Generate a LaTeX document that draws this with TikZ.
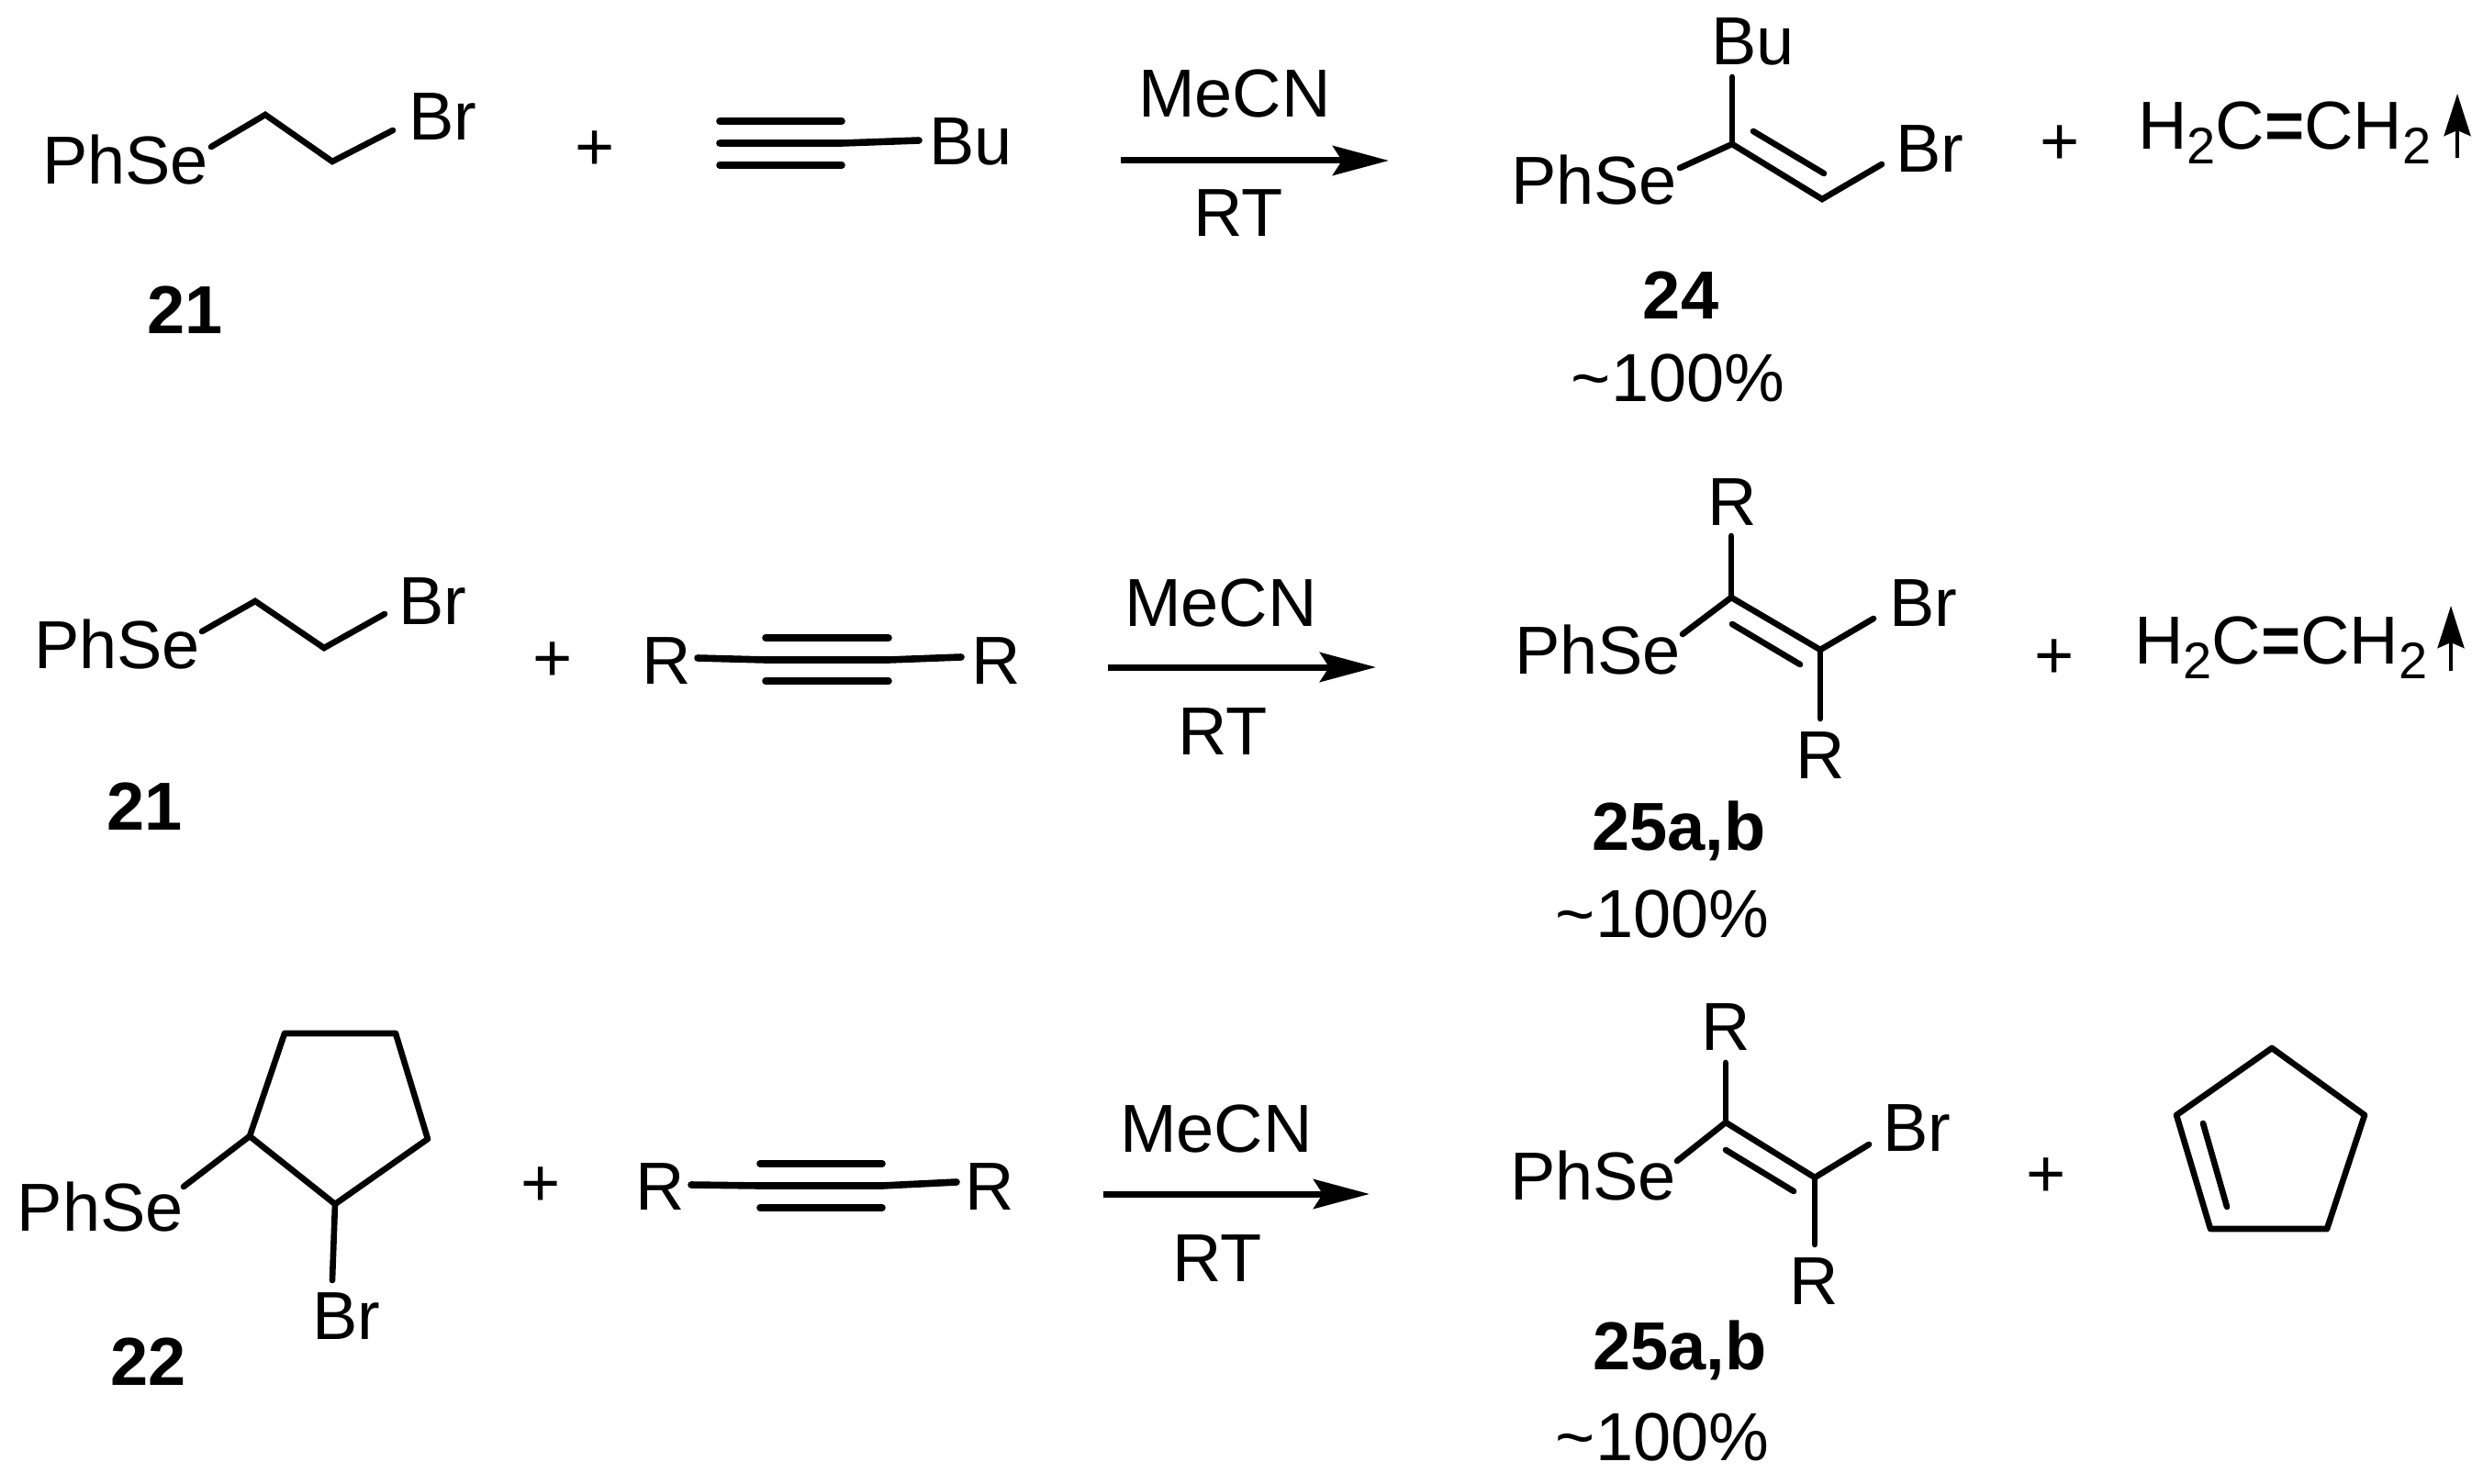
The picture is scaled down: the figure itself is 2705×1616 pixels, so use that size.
\documentclass[tikz,border=0pt]{standalone}
\usepackage{fontspec}
\setmainfont{Liberation Sans}
\usetikzlibrary{arrows.meta}
\tikzset{
  chemtext/.style={inner sep=0pt,outer sep=0pt,font=\fontsize{18.5pt}{20pt}\selectfont},
  atomw/.style={chemtext,anchor=base west},
  labc/.style={chemtext,anchor=base},
  boldc/.style={chemtext,anchor=base,font=\fontsize{18.5pt}{20pt}\selectfont\bfseries},
  bond/.style={draw=black,line width=1.65pt,line cap=round,line join=miter},
  triple/.style={draw=black,line width=1.9pt,line cap=round},
  rxnarrow/.style={draw=black,line width=1.75pt,-{Stealth[length=15.25pt,width=8pt,inset=2.5pt,sep=0pt]}},
  gasarrow/.style={draw=black,line width=1.2pt,-{Stealth[length=11.5pt,width=7.2pt,inset=1.5pt,sep=0pt]}}
}
\newcommand{\ethene}{H\raisebox{-4pt}{\fontsize{14pt}{15pt}\selectfont 2}C{\bfseries=}CH\raisebox{-4pt}{\fontsize{14pt}{15pt}\selectfont 2}}
\begin{document}
\begin{tikzpicture}[x=0.25pt,y=-0.25pt]
\useasboundingbox[fill=white] (0,0) rectangle (2705,1616);

% ===== Row 1 =====
\node[atomw] (aPhSe) at (46,200) {PhSe};
\node[atomw] (aBr) at (445,152) {Br};
\coordinate (a1) at (230,160); \coordinate (a2) at (289,125); \coordinate (a3) at (362,176); \coordinate (a4) at (428,142);
\draw[bond] (a1) -- (a2) -- (a3) -- (a4);
\node[boldc] (a21) at (202,363) {21};
\node[labc] (aplus) at (648,186) {+};
\coordinate (at1) at (784,132); \coordinate (at2) at (917,132);
\coordinate (at3) at (784,156); \coordinate (at4) at (917,156);
\coordinate (at5) at (784,180); \coordinate (at6) at (917,180);
\coordinate (at7) at (1001,153);
\draw[triple] (at1) -- (at2);
\draw[triple] (at3) -- (at4) -- (at7);
\draw[triple] (at5) -- (at6);
\node[atomw] (aBu) at (1012,180) {Bu};
\coordinate (ar1) at (1221,175); \coordinate (ar2) at (1513,175);
\draw[rxnarrow] (ar1) -- (ar2);
\node[labc] (aMe) at (1345,128) {MeCN};
\node[labc] (aRT) at (1349,257) {RT};
\node[atomw] (pPhSe) at (1646,223) {PhSe};
\node[atomw] (pBu) at (1864,71) {Bu};
\node[atomw] (pBr) at (2065,188) {Br};
\coordinate (pc1) at (1887,157); \coordinate (pc2) at (1985,217);
\coordinate (pb1) at (1887,84); \coordinate (pb2) at (1830,183); \coordinate (pb3) at (2050,179);
\coordinate (pd1) at (1910,143); \coordinate (pd2) at (1987,189);
\draw[bond] (pb1) -- (pc1);
\draw[bond] (pb2) -- (pc1) -- (pc2) -- (pb3);
\draw[bond] (pd1) -- (pd2);
\node[boldc] (p24) at (1831,347) {24};
\node[labc] (py1) at (1828,437) {\textasciitilde100\%};
\node[labc] (pplus) at (2244,180) {+};
\node[atomw] (peth) at (2329,163) {\ethene};
\coordinate (pg1) at (2677,172); \coordinate (pg2) at (2677,102);
\draw[gasarrow] (pg1) -- (pg2);

% ===== Row 2 =====
\node[atomw] (bPhSe) at (37,728) {PhSe};
\node[atomw] (bBr) at (434,680) {Br};
\coordinate (b1) at (220,688); \coordinate (b2) at (278,655); \coordinate (b3) at (353,706); \coordinate (b4) at (419,669);
\draw[bond] (b1) -- (b2) -- (b3) -- (b4);
\node[boldc] (b21) at (158,904) {21};
\node[labc] (bplus) at (602,742) {+};
\node[atomw] (bR1) at (699,745) {R};
\node[atomw] (bR2) at (1058,745) {R};
\coordinate (bt1) at (834,695); \coordinate (bt2) at (968,695);
\coordinate (bt3) at (760,717); \coordinate (bt4) at (834,719); \coordinate (bt5) at (968,719); \coordinate (bt6) at (1047,716);
\coordinate (bt7) at (834,742); \coordinate (bt8) at (968,742);
\draw[triple] (bt1) -- (bt2);
\draw[triple] (bt3) -- (bt4) -- (bt5) -- (bt6);
\draw[triple] (bt7) -- (bt8);
\coordinate (br1) at (1207,727); \coordinate (br2) at (1499,727);
\draw[rxnarrow] (br1) -- (br2);
\node[labc] (bMe) at (1330,682) {MeCN};
\node[labc] (bRT) at (1332,822) {RT};
\node[atomw] (qPhSe) at (1650,734) {PhSe};
\node[atomw] (qR1) at (1860,572) {R};
\node[atomw] (qBr) at (2058,682) {Br};
\node[atomw] (qR2) at (1956,848) {R};
\coordinate (qc1) at (1886,651); \coordinate (qc2) at (1983,708);
\coordinate (qb1) at (1886,584); \coordinate (qb2) at (1833,691); \coordinate (qb3) at (2041,674); \coordinate (qb4) at (1983,783);
\coordinate (qd1) at (1887,680); \coordinate (qd2) at (1961,724);
\draw[bond] (qb1) -- (qc1);
\draw[bond] (qb2) -- (qc1) -- (qc2) -- (qb3);
\draw[bond] (qc2) -- (qb4);
\draw[bond] (qd1) -- (qd2);
\node[boldc] (q25) at (1829,926) {25a,b};
\node[labc] (qy) at (1811,1021) {\textasciitilde100\%};
\node[labc] (qplus) at (2238,739) {+};
\node[atomw] (qeth) at (2325,723) {\ethene};
\coordinate (qg1) at (2670,731); \coordinate (qg2) at (2670,660);
\draw[gasarrow] (qg1) -- (qg2);

% ===== Row 3 =====
\node[atomw] (cPhSe) at (19,1341) {PhSe};
\node[atomw] (cBr) at (340,1459) {Br};
\coordinate (r1) at (272,1238); \coordinate (r2) at (310,1126); \coordinate (r3) at (431,1126);
\coordinate (r4) at (466,1241); \coordinate (r5) at (365,1312);
\coordinate (c1) at (200,1293); \coordinate (c2) at (362,1395);
\draw[bond,line join=round] (r1) -- (r2) -- (r3) -- (r4) -- (r5) -- cycle;
\draw[bond] (c1) -- (r1);
\draw[bond] (r5) -- (c2);
\node[boldc] (c22) at (162,1509) {22};
\node[labc] (cplus) at (589,1314) {+};
\node[atomw] (cR1) at (692,1318) {R};
\node[atomw] (cR2) at (1051,1318) {R};
\coordinate (ct1) at (828,1268); \coordinate (ct2) at (961,1268);
\coordinate (ct3) at (753,1291); \coordinate (ct4) at (828,1292); \coordinate (ct5) at (961,1292); \coordinate (ct6) at (1042,1288);
\coordinate (ct7) at (828,1316); \coordinate (ct8) at (961,1316);
\draw[triple] (ct1) -- (ct2);
\draw[triple] (ct3) -- (ct4) -- (ct5) -- (ct6);
\draw[triple] (ct7) -- (ct8);
\coordinate (cr1) at (1202,1301); \coordinate (cr2) at (1492,1301);
\draw[rxnarrow] (cr1) -- (cr2);
\node[labc] (cMe) at (1325,1255) {MeCN};
\node[labc] (cRT) at (1326,1396) {RT};
\node[atomw] (sPhSe) at (1645,1307) {PhSe};
\node[atomw] (sR1) at (1853,1144) {R};
\node[atomw] (sBr) at (2051,1254) {Br};
\node[atomw] (sR2) at (1949,1421) {R};
\coordinate (sc1) at (1880,1223); \coordinate (sc2) at (1977,1283);
\coordinate (sb1) at (1880,1158); \coordinate (sb2) at (1827,1265); \coordinate (sb3) at (2036,1247); \coordinate (sb4) at (1977,1356);
\coordinate (sd1) at (1880,1253); \coordinate (sd2) at (1954,1298);
\draw[bond] (sb1) -- (sc1);
\draw[bond] (sb2) -- (sc1) -- (sc2) -- (sb3);
\draw[bond] (sc2) -- (sb4);
\draw[bond] (sd1) -- (sd2);
\node[boldc] (s25) at (1830,1492) {25a,b};
\node[labc] (sy) at (1811,1591) {\textasciitilde100\%};
\node[labc] (splus) at (2229,1304) {+};
\coordinate (e1) at (2475,1142); \coordinate (e2) at (2576,1215); \coordinate (e3) at (2535,1339);
\coordinate (e4) at (2408,1339); \coordinate (e5) at (2371,1215);
\coordinate (e6) at (2400,1224); \coordinate (e7) at (2426,1315);
\draw[bond,line join=round] (e1) -- (e2) -- (e3) -- (e4) -- (e5) -- cycle;
\draw[bond] (e6) -- (e7);
\end{tikzpicture}
\end{document}
